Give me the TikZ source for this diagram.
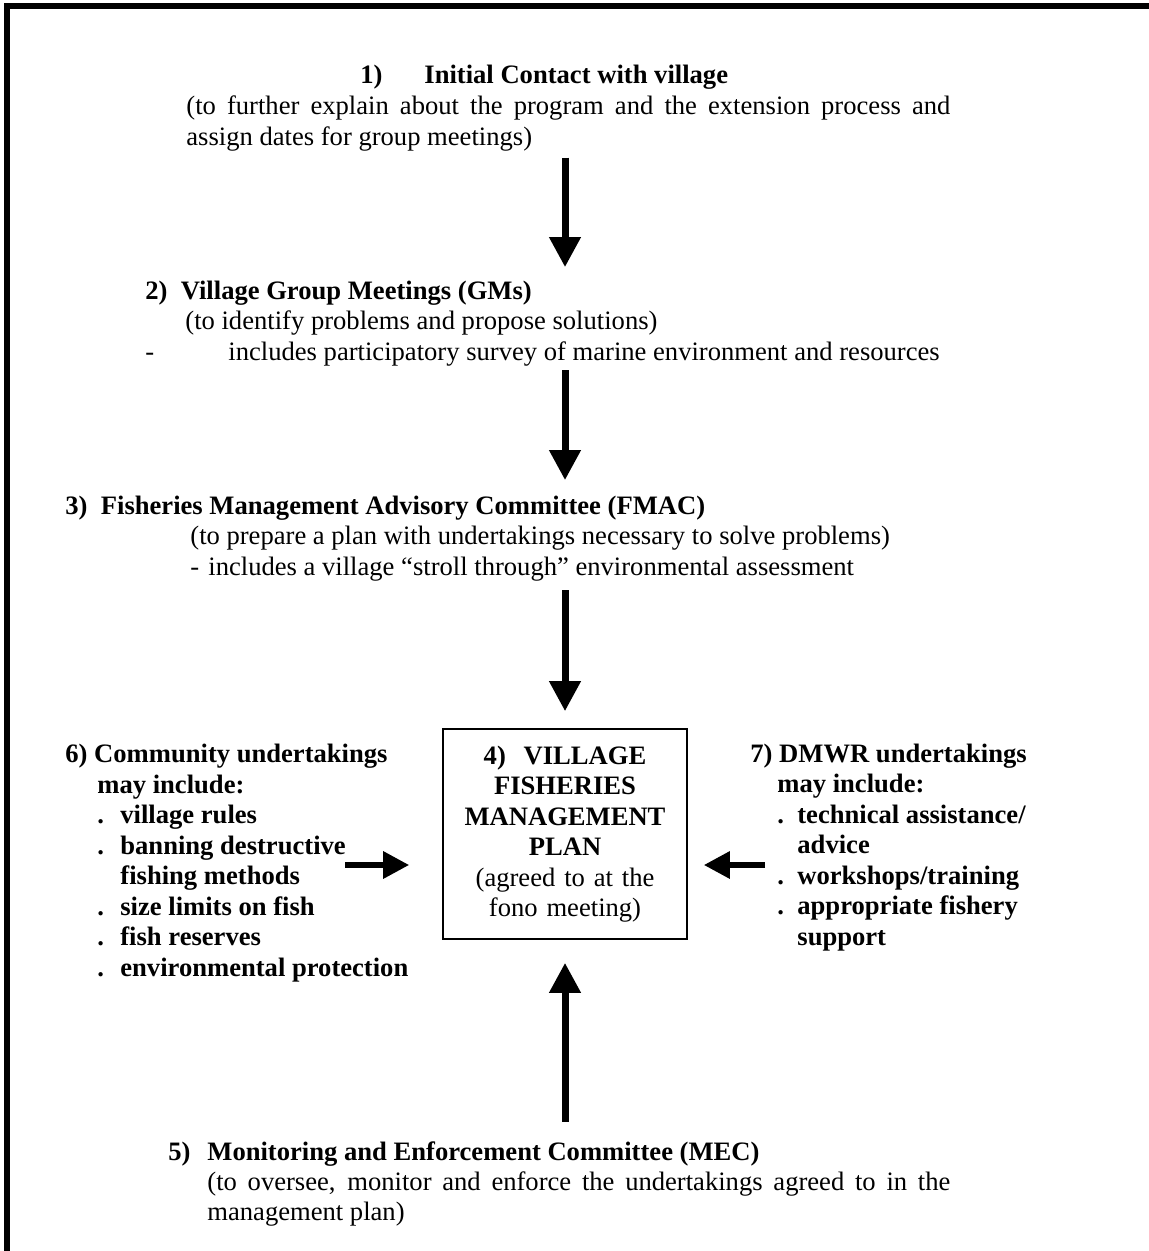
\documentclass[tikz,border=0pt]{standalone}
\usepackage{fontspec}
\setmainfont{Liberation Serif}
\usetikzlibrary{arrows.meta}
\newcommand{\bul}[3]{\hspace*{#1}\makebox[#2][l]{.}#3}

\begin{document}
\begin{tikzpicture}[x=0.5pt, y=-0.5pt,
        every node/.style={inner sep=0pt},
        txt/.style={anchor=base west, align=left},
        flow/.style={-{Triangle[length=15pt, width=15pt]}, line width=3.5pt},
        side/.style={-{Triangle[length=13pt, width=13pt]}, line width=3pt}]
        \fontsize{13.3}{15.25}\selectfont
        \useasboundingbox (0,0) rectangle (1149,1251);
        \draw[line width=3pt] (7,1251) -- (7,6) -- (1149,6);

        \node[anchor=base west, font=\bfseries] (init) at (360,84)
            {\makebox[32pt][l]{1)}Initial Contact with village};
        \node[txt, text width=382pt, align=justify] (initnote) at (186,115)
            {(to further explain about the program and the extension process and\linebreak assign dates for group meetings)};
        \node[txt] (grp) at (145,360)
            {\textbf{2)\ \ Village Group Meetings (GMs)}\\
             \hspace*{20pt}(to identify problems and propose solutions)\\
             \makebox[41.5pt][l]{-}includes participatory survey of marine environment and resources};
        \node[txt] (fmac) at (65,575)
            {\textbf{3)\ \ Fisheries Management Advisory Committee (FMAC)}\\
             \hspace*{62.5pt}(to prepare a plan with undertakings necessary to solve problems)\\
             \hspace*{62.5pt}\makebox[9pt][l]{-}includes a village ``stroll through'' environmental assessment};
        \node[draw, line width=0.8pt, minimum width=122pt, minimum height=105pt, text width=118pt, align=center] (plan) at (565,834)
            {\textbf{4)\ \ VILLAGE}\\ \textbf{FISHERIES}\\ \textbf{MANAGEMENT}\\ \textbf{PLAN}\\
             (agreed to at the\\ fono meeting)};
        \node[txt, font=\bfseries] (comm) at (65,976)
            {6) Community undertakings\\
             \hspace*{16pt}may include:\\
             \bul{16pt}{11.5pt}{village rules}\\
             \bul{16pt}{11.5pt}{banning destructive}\\
             \hspace*{27.5pt}fishing methods\\
             \bul{16pt}{11.5pt}{size limits on fish}\\
             \bul{16pt}{11.5pt}{fish reserves}\\
             \bul{16pt}{11.5pt}{environmental protection}};
        \node[txt, font=\bfseries] (dmwr) at (750,945)
            {7) DMWR undertakings\\
             \hspace*{13.5pt}may include:\\
             \bul{13.5pt}{10pt}{technical assistance/}\\
             \hspace*{23.5pt}advice\\
             \bul{13.5pt}{10pt}{workshops/training}\\
             \bul{13.5pt}{10pt}{appropriate fishery}\\
             \hspace*{23.5pt}support};
        \node[txt, font=\bfseries] (mec) at (168,1160)
            {\makebox[19.5pt][l]{5)}Monitoring and Enforcement Committee (MEC)};
        \node[txt, text width=371.5pt, align=justify] (mecnote) at (207,1190)
            {(to oversee, monitor and enforce the undertakings agreed to in the\linebreak management plan)};

        \draw[flow, shorten <=3pt, shorten >=6.5pt] (initnote.south -| plan) -- (grp.north -| plan);
        \draw[flow, shorten <=2pt, shorten >=7.5pt] (grp.south -| plan) -- (fmac.north -| plan);
        \draw[flow, shorten <=4.5pt, shorten >=8.5pt] (fmac.south -| plan) -- (plan.north);
        \draw[flow, shorten <=9.5pt, shorten >=11.5pt] (mec.north -| plan) -- (plan.south);

        \coordinate (commout) at (345,865);
        \coordinate (dmwrout) at (765,865);
        \draw[side, shorten >=16.5pt] (commout) -- (commout -| plan.west);
        \draw[side, shorten >=8pt] (dmwrout) -- (dmwrout -| plan.east);
    \end{tikzpicture}
\end{document}
